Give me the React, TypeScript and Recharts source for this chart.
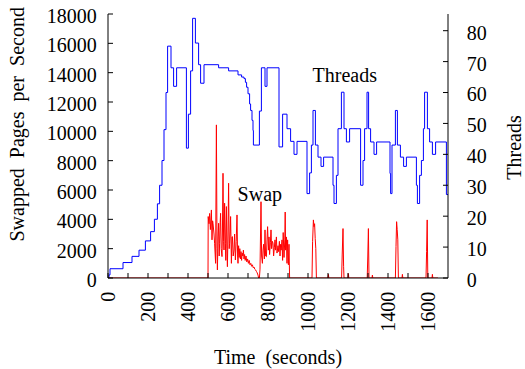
import React from 'react';
import { ComposedChart, Line, XAxis, YAxis, ReferenceDot } from 'recharts';

const FONT = "'Liberation Serif', 'Times New Roman', serif";

// tick values
const timeTicks = [0, 100, 200, 300, 400, 500, 600, 700, 800, 900, 1000, 1100, 1200, 1300, 1400, 1500, 1600];
const swapTicks = [0, 2000, 4000, 6000, 8000, 10000, 12000, 14000, 16000, 18000];
const threadTicks = [0, 10, 20, 30, 40, 50, 60, 70, 80];

// Threads series (right axis), step changes
const threadTime = [
  0, 5, 10, 75, 120, 155, 187, 213, 232, 247, 258, 270, 280, 290, 298, 315, 328, 343,
  392, 402, 413, 423, 437, 453, 463, 480, 553, 603, 650, 668, 680, 687, 693, 700, 708,
  713, 720, 725, 727, 757, 767, 785, 795, 855, 873, 895, 913, 930, 945, 995, 1008,
  1017, 1025, 1037, 1050, 1065, 1078, 1125, 1130, 1142, 1150, 1167, 1180, 1192, 1208,
  1263, 1275, 1283, 1295, 1303, 1313, 1330, 1343, 1410, 1413, 1420, 1437, 1447, 1462,
  1478, 1492, 1542, 1547, 1558, 1567, 1577, 1583, 1597, 1608, 1622, 1638, 1692, 1700,
];
const threadCount = [
  0, 1, 3, 5, 7, 9, 12, 15, 19, 24, 30, 38, 48, 60, 75, 68, 62, 68,
  42, 53, 67, 84, 76, 69, 63, 69, 68, 67, 65.7, 65, 64.5, 63.3, 61.7, 59.6, 56.3,
  54.2, 51, 47.7, 43, 54, 68, 62, 68, 42.4, 53, 48.3, 44.2, 40, 44.2, 27.3, 34,
  43, 54.2, 43, 39.1, 36.1, 39.1, 30, 24.1, 33.2, 48.3, 60.1, 48.3, 44, 48.3,
  30, 38, 48.3, 60.1, 48.3, 44, 40, 44, 33.8, 27.3, 43, 54.2, 43, 39.1,
  36.1, 39.1, 30, 24.1, 33.2, 38, 48.3, 60.1, 48.3, 44, 40, 44, 27, 27,
];

// Swap series (left axis)
const swapTime = [
  0, 500, 501, 505, 508, 512, 517, 520, 523, 525, 530, 533, 538, 542, 545, 547, 550,
  553, 556, 558, 561, 563, 566, 570, 572, 575, 578, 580, 583, 587, 589, 592, 595, 597,
  600, 603, 606, 608, 611, 613, 617, 620, 622, 626, 630, 633, 637, 641, 645, 648,
  650, 653, 656, 659, 662, 665, 668, 671, 674, 677, 680, 683, 686, 690, 694, 698, 702,
  706, 710, 714, 718, 722, 726, 730, 734, 738, 742, 746, 750, 753, 757, 760, 765, 768,
  772, 775, 778, 782, 785, 788, 792, 795,
  798, 802, 805, 808, 812, 815, 818, 822, 825, 828, 832, 835, 838, 842, 845, 850, 853,
  857, 860, 863, 866, 870, 873, 876, 880, 884, 886, 888, 892, 895, 898, 902, 905, 908,
  1020, 1023, 1027, 1030, 1033, 1036, 1039, 1042, 1100, 1102, 1104, 1168, 1171, 1175,
  1178, 1180, 1200, 1202, 1204, 1296, 1299, 1302, 1305, 1320, 1322, 1324, 1437, 1440,
  1443, 1446, 1449, 1452, 1470, 1472, 1474, 1590, 1593, 1596, 1599, 1620, 1622, 1624, 1650,
];
const swapRate = [
  0, 0, 4190, 3700, 4400, 3300, 4640, 2600, 3900, 3730, 3000, 2370, 1000, 10440, 2000, 550, 2800,
  3730, 1500, 2370, 3800, 4410, 2000, 1460, 3000, 7140, 2500, 1910, 5100, 2370, 1200, 4870, 2000, 770,
  3000, 6460, 2000, 2370, 3200, 4190, 1000, 2800, 2820, 1500, 1910, 3000, 1230, 2500, 4300, 1500,
  1000, 2200, 1400, 2000, 1300, 1800, 1200, 1700, 1500, 1900, 1300, 1600, 1200, 1500, 1100, 1300, 1000,
  1200, 900, 1000, 800, 900, 700, 750, 600, 550, 450, 350, 200, 0, 0, 600, 5200, 1500,
  1000, 1900, 2300, 1300, 3280, 1500, 1450, 2600,
  3500, 1900, 2800, 1600, 2400, 3280, 2000, 2500, 2370, 1500, 2100, 2600, 1900, 2800, 1700, 2200, 1800,
  2500, 1500, 2300, 1900, 2600, 1200, 3100, 1400, 2600, 4500, 1900, 2800, 1000, 2600, 900, 2300, 0,
  0, 2500, 3960, 3500, 3700, 2700, 2000, 0, 0, 250, 0, 0, 1570, 3370,
  800, 0, 0, 300, 0, 0, 1500, 3370, 0, 0, 200, 0, 0, 2140,
  3840, 3300, 2600, 0, 0, 250, 0, 0, 1800, 3960, 0, 0, 250, 0, 0,
];

const threadData = threadTime.map((t, i) => ({ t, threads: threadCount[i] }));
const swapData = swapTime.map((t, i) => ({ t, swap: swapRate[i] }));

const XTick = (props: any) => {
  const { x, y, payload } = props;
  if (payload.value % 200 !== 0) return <g />;
  return (
    <text x={x} y={y} transform={`rotate(-90 ${x} ${y})`} textAnchor="end" dy="0.35em"
      fontSize={20} fontFamily={FONT} fill="#000">{payload.value}</text>
  );
};

const YTick = (props: any) => {
  const { x, y, payload, textAnchor } = props;
  return (
    <text x={x} y={y + 1.8} textAnchor={textAnchor} dy="0.355em" fontSize={20} fontFamily={FONT}
      fill="#000">{payload.value}</text>
  );
};

const LeftTitle = (props: any) => {
  const vb = props.viewBox;
  const x = vb.x + 24.5;
  const y = vb.y + vb.height / 2 - 21.7;
  return (
    <text x={x} y={y} transform={`rotate(-90 ${x} ${y})`} textAnchor="middle" fontSize={20}
      fontFamily={FONT} fill="#000" style={{ whiteSpace: 'pre' }}>{'Swapped  Pages  per  Second'}</text>
  );
};

const RightTitle = () => {
  const x = 521;
  const y = 147.5;
  return (
    <text x={x} y={y} transform={`rotate(-90 ${x} ${y})`} textAnchor="middle" fontSize={20}
      fontFamily={FONT} fill="#000">Threads</text>
  );
};

const BottomTitle = (props: any) => {
  const vb = props.viewBox;
  return (
    <text x={vb.x + vb.width / 2} y={vb.y + 86} textAnchor="middle" fontSize={20} fontFamily={FONT}
      fill="#000" style={{ whiteSpace: 'pre' }}>{'Time  (seconds)'}</text>
  );
};

const textShape = (label: string) => (p: any) => (
  <text x={p.cx} y={p.cy} textAnchor="start" fontSize={20} fontFamily={FONT} fill="#000">{label}</text>
);

export default function App() {
  return (
    <div style={{ position: 'absolute', left: 0, top: 0 }}>
      <ComposedChart width={525} height={369} margin={{ top: 14, right: 0, bottom: 0, left: 0 }}>
        <XAxis
          dataKey="t"
          type="number"
          domain={[0, 1700]}
          ticks={timeTicks}
          interval={0}
          allowDataOverflow
          height={91}
          stroke="#000"
          tickSize={-5}
          tickMargin={18.7}
          tickLine={{ stroke: '#000' }}
          tick={<XTick />}
          label={(p: any) => <BottomTitle {...p} />}
        />
        <XAxis
          xAxisId="top"
          orientation="top"
          dataKey="t"
          type="number"
          domain={[0, 1700]}
          ticks={timeTicks}
          interval={0}
          allowDataOverflow
          height={0}
          stroke="#000"
          tickSize={-5}
          tickLine={{ stroke: '#000' }}
          tick={false}
        />
        <YAxis
          yAxisId="left"
          type="number"
          domain={[0, 18000]}
          ticks={swapTicks}
          interval={0}
          allowDataOverflow
          width={108}
          stroke="#000"
          tickSize={-5}
          tickMargin={16.3}
          tickLine={{ stroke: '#000' }}
          tick={<YTick />}
          label={(p: any) => <LeftTitle {...p} />}
        />
        <YAxis
          yAxisId="right"
          orientation="right"
          type="number"
          domain={[0, 85.4]}
          ticks={threadTicks}
          interval={0}
          allowDataOverflow
          width={77}
          stroke="#000"
          tickSize={-5}
          tickMargin={23.7}
          tickLine={{ stroke: '#000' }}
          tick={<YTick />}
          label={() => <RightTitle />}
        />
        <Line
          yAxisId="right"
          data={threadData}
          dataKey="threads"
          type="stepAfter"
          stroke="#0000ff"
          strokeWidth={1}
          dot={false}
          isAnimationActive={false}
        />
        <Line
          yAxisId="left"
          data={swapData}
          dataKey="swap"
          type="linear"
          stroke="#ff0000"
          strokeWidth={1}
          dot={false}
          isAnimationActive={false}
        />
        <ReferenceDot yAxisId="left" x={1023} y={13345} r={1} shape={textShape('Threads')} />
        <ReferenceDot yAxisId="left" x={648} y={5256} r={1} shape={textShape('Swap')} />
      </ComposedChart>
    </div>
  );
}
